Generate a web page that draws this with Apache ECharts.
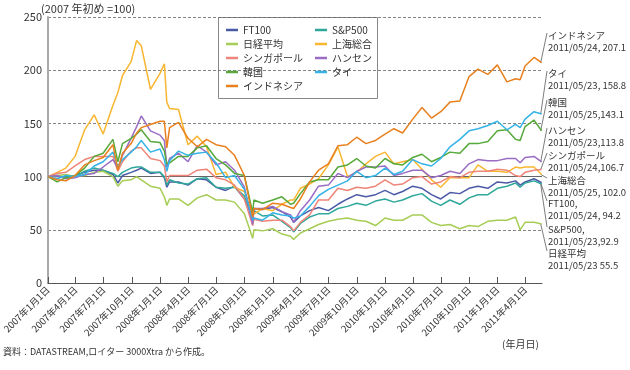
<!DOCTYPE html>
<html><head><meta charset="utf-8">
<script src="https://cdn.jsdelivr.net/npm/echarts@6/dist/echarts.min.js"></script>
<style>html,body{margin:0;padding:0;background:#fff}#c{width:630px;height:370px}</style>
</head><body><div id="c"></div>
<script>
// ---- data ----
const dates = [
 '2007-01-01','2007-01-31','2007-02-28','2007-03-30','2007-04-30','2007-05-31','2007-06-29','2007-07-31','2007-08-16','2007-08-31','2007-09-28','2007-10-16','2007-10-31','2007-11-30','2007-12-31',
 '2008-01-14','2008-01-22','2008-01-31','2008-02-29','2008-03-31','2008-04-30','2008-05-30','2008-06-30','2008-07-31','2008-08-29','2008-09-30','2008-10-27','2008-10-31','2008-11-28','2008-12-31',
 '2009-01-30','2009-02-27','2009-03-09','2009-03-31','2009-04-30','2009-05-29','2009-06-30','2009-07-31','2009-08-31','2009-09-30','2009-10-30','2009-11-30','2009-12-31',
 '2010-01-29','2010-02-26','2010-03-31','2010-04-30','2010-05-31','2010-06-30','2010-07-30','2010-08-31','2010-09-30','2010-10-29','2010-11-30','2010-12-31',
 '2011-01-31','2011-02-28','2011-03-15','2011-03-31','2011-04-29','2011-05-24'
];
const ft100 = [100,100,99,101,104,106,106,102,94,101,104,106,108,103,104,
 99,90,95,95,92,98,97,90,87,91,79,62,70,69,71,
 67,62,57,63,68,71,68,74,79,83,81,83,87,
 83,86,91,89,83,79,85,84,89,91,89,95,
 94,96,92,95,98,94.2];
const sp500 = [100,101,99,100,105,108,106,103,100,104,108,109,109,104,104,
 100,92,97,94,93,98,99,90,89,90,82,60,68,63,64,
 58,52,48,56,62,65,65,70,72,75,73,77,79,
 76,78,82,84,77,73,78,74,80,83,83,89,
 91,94,90,94,96,92.9];
const nikkei = [100,101,102,100,101,104,105,100,91,96,97,100,97,91,89,
 81,73,79,79,73,80,83,78,78,76,65,42,50,49,51,
 46,44,41,47,51,55,58,60,61,59,58,54,61,
 59,59,64,64,57,54,55,51,54,53,58,59,
 59,62,50,57,57,55.5];
const shanghai = [100,104,108,119,144,158,140,167,179,195,208,228,223,182,197,
 206,170,164,163,130,138,128,102,104,90,86,64,65,70,68,
 74,78,78,89,93,98,111,128,100,104,112,119,123,
 112,114,116,107,97,90,99,99,99,111,105,105,
 104,109,108,109,109,102.0];
const singapore = [100,103,104,110,116,119,119,119,105,114,124,127,127,117,115,
 110,95,101,101,101,106,107,99,97,92,79,54,60,58,59,
 59,53,49,57,64,78,78,89,87,90,89,91,97,
 92,93,99,100,93,95,100,99,104,105,105,107,
 106,101,100,104,106,106.7];
const hangseng = [100,101,98,99,102,103,109,116,108,120,136,147,157,143,139,
 134,109,117,122,114,129,123,111,114,106,90,55,70,70,72,
 67,64,57,68,78,91,92,103,99,105,109,109,110,
 101,103,106,106,99,101,105,103,112,116,115,115,
 117,117,113,118,119,113.8];
const korea = [100,95,99,101,108,119,122,135,114,131,136,140,144,133,132,
 124,112,113,119,119,127,129,117,111,103,101,66,78,75,78,
 81,74,75,84,95,97,97,109,111,117,110,108,117,
 112,111,118,121,114,118,123,122,131,131,133,143,
 144,135,134,147,153,143.1];
const thai = [100,98,101,100,102,110,114,123,109,116,123,128,134,123,126,
 116,105,115,124,120,122,123,113,99,101,88,59,61,59,66,
 64,63,61,63,72,82,88,92,96,105,99,101,108,
 102,105,116,112,110,117,128,135,143,145,148,152,
 144,149,146,154,161,158.8];
const indonesia = [100,97,96,101,111,115,118,130,106,122,131,141,146,149,152,
 152,127,146,151,136,128,135,130,128,120,101,62,70,69,75,
 74,71,70,79,95,106,112,129,130,137,131,134,140,
 145,141,154,165,155,161,170,171,194,201,196,205,
 189,192,191,204,212,207.1];
const tickDates = ['2007-01-01','2007-04-01','2007-07-01','2007-10-01','2008-01-01','2008-04-01','2008-07-01','2008-10-01',
 '2009-01-01','2009-04-01','2009-07-01','2009-10-01','2010-01-01','2010-04-01','2010-07-01','2010-10-01','2011-01-01','2011-04-01'];
const xRange = ['2007-01-01','2011-05-25'];
const endNotes = [
 ['インドネシア','2011/05/24, 207.1'],
 ['タイ','2011/05/23, 158.8'],
 ['韓国','2011/05/25,143.1'],
 ['ハンセン','2011/05/23,113.8'],
 ['シンガポール','2011/05/24,106.7'],
 ['上海総合','2011/05/25, 102.0'],
 ['FT100,','2011/05/24, 94.2'],
 ['S&P500,','2011/05/23,92.9'],
 ['日経平均','2011/05/23 55.5']
];
const noteSeries = ['インドネシア','タイ','韓国','ハンセン','シンガポール','上海総合','FT100','S&P500','日経平均'];

// ---- styles ----
const FONT = '"Noto Sans CJK JP", "Noto Sans", sans-serif';
const seriesDefs = [
 {name:'FT100', data: ft100, color:'#4b5aa6'},
 {name:'S&P500', data: sp500, color:'#2fa89a'},
 {name:'日経平均', data: nikkei, color:'#a6cd55'},
 {name:'上海総合', data: shanghai, color:'#f9b631'},
 {name:'シンガポール', data: singapore, color:'#ef8479'},
 {name:'ハンセン', data: hangseng, color:'#9a6cc4'},
 {name:'韓国', data: korea, color:'#56a93a'},
 {name:'タイ', data: thai, color:'#35b3e6'},
 {name:'インドネシア', data: indonesia, color:'#e8801e'}
];
const noteY = [35,73,102,130,155,180,203,229,253];

const ts = (d)=> Date.UTC(+d.slice(0,4), +d.slice(5,7)-1, +d.slice(8,10));
const fmtDate = (v)=>{const d=new Date(v);return d.getUTCFullYear()+'年'+(d.getUTCMonth()+1)+'月'+d.getUTCDate()+'日';};

const chart = echarts.init(document.getElementById('c'), null, {renderer:'canvas'});
const legendStyle = {orient:'vertical', icon:'rect', itemWidth:12, itemHeight:2.5, itemGap:0,
  textStyle:{fontFamily:FONT, fontSize:10, color:'#333', lineHeight:14}, padding:0, selectedMode:false};
const option = {
  animation:false,
  backgroundColor:'#fff',
  textStyle:{fontFamily:FONT},
  grid:{left:42, right:88, top:17, bottom:87, containLabel:false},
  legend:[
    Object.assign({data:['FT100','日経平均','シンガポール','韓国','インドネシア'], left:226, top:23}, legendStyle),
    Object.assign({data:['S&P500','上海総合','ハンセン','タイ'], left:315, top:23}, legendStyle)
  ],
  xAxis:{type:'value', min:ts(xRange[0]), max:ts(xRange[1]), scale:true,
    axisLine:{lineStyle:{color:'#555', width:1}},
    axisTick:{show:true, inside:true, length:6, lineStyle:{color:'#555'}, customValues: tickDates.map(ts)},
    axisLabel:{rotate:45, fontSize:9.5, color:'#333', fontFamily:FONT, margin:5, hideOverlap:false,
      customValues: tickDates.map(ts), formatter: fmtDate},
    splitLine:{show:false}
  },
  yAxis:{type:'value', min:0, max:250, interval:50,
    axisLine:{show:true, lineStyle:{color:'#aaa', width:2}},
    axisTick:{show:false},
    axisLabel:{fontSize:11, color:'#333', margin:6, fontFamily:FONT},
    splitLine:{show:true, lineStyle:{color:'#666', type:[3,2], width:0.8}}
  },
  series: seriesDefs.map((s,k)=>({
    name:s.name, type:'line', showSymbol:false, symbol:'none',
    color:s.color, lineStyle:{width:1.5, color:s.color},
    data: dates.map((d,i)=>[ts(d), s.data[i]]),
    z: 2,
    markLine: k===0 ? {silent:true, symbol:'none', label:{show:false},
      lineStyle:{color:'#666', type:'solid', width:1}, data:[{yAxis:100}], z:1} : undefined
  }))
};
chart.setOption(option);

// annotations
const g = [];
g.push({type:'text', left:41, top:3, style:{text:'(2007 年初め =100)', font:'11px '+FONT, fill:'#333'}});
g.push({type:'text', left:3, top:347, style:{text:'資料：DATASTREAM,ロイター 3000Xtra から作成。', font:'9px '+FONT, fill:'#333'}});
g.push({type:'text', left:502, top:339, style:{text:'(年月日)', font:'10px '+FONT, fill:'#333'}});
g.push({type:'rect', shape:{x:218.5, y:17.5, width:159, height:81}, style:{fill:'none', stroke:'#888', lineWidth:1}, z:-1});
const lastDate = ts(dates[dates.length-1]);
noteSeries.forEach((nm,i)=>{
  const s = seriesDefs.find(d=>d.name===nm);
  const p = chart.convertToPixel({gridIndex:0}, [lastDate, s.data[s.data.length-1]]);
  const ty = noteY[i];
  g.push({type:'line', shape:{x1:p[0]-1, y1:p[1], x2:547, y2:ty-2}, style:{stroke:'#444', lineWidth:0.7}});
  g.push({type:'text', left:548, top:ty-6, style:{text:endNotes[i][0]+'\n'+endNotes[i][1], font:'9.5px '+FONT, fill:'#333', lineHeight:12}});
});
chart.setOption({graphic:g});
</script></body></html>
